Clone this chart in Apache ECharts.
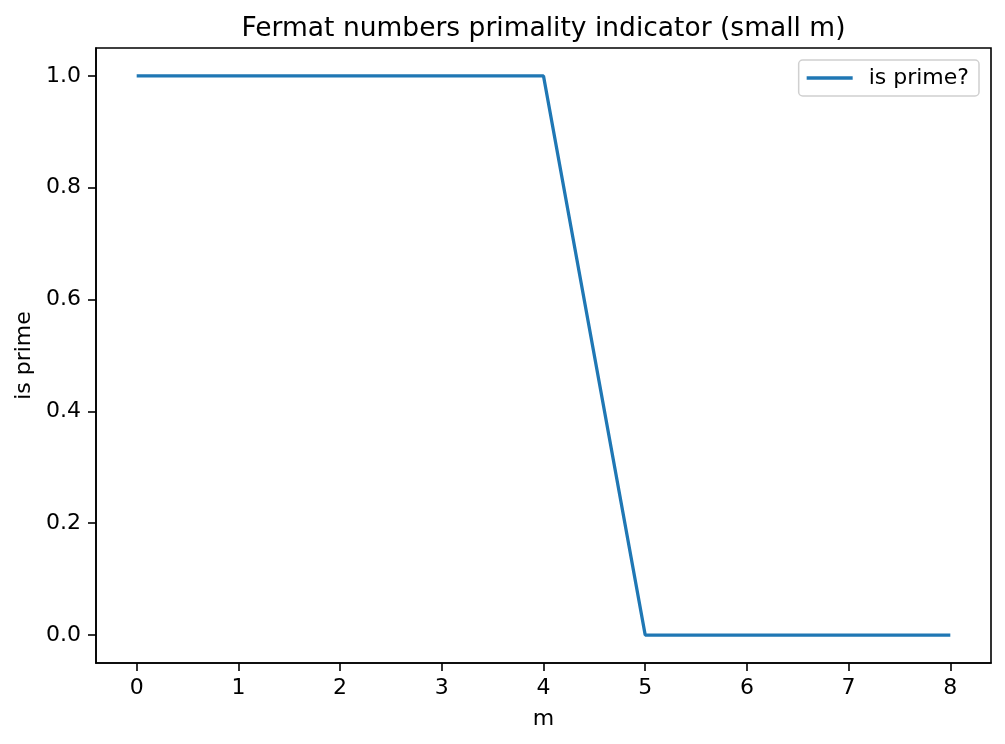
<!DOCTYPE html>
<html>
<head>
<meta charset="utf-8">
<script src="https://cdn.jsdelivr.net/npm/echarts@6/dist/echarts.min.js"></script>
<style>
html,body{margin:0;padding:0;background:#fff;}
#chart{width:1005px;height:744px;}
</style>
</head>
<body>
<div id="chart"></div>
<script>
const mValues = [0, 1, 2, 3, 4, 5, 6, 7, 8];
const isPrime = [1, 1, 1, 1, 1, 0, 0, 0, 0];
const xTicks = [0, 1, 2, 3, 4, 5, 6, 7, 8];
const yTicks = [0, 0.2, 0.4, 0.6, 0.8, 1.0];
const titleText = 'Fermat numbers primality indicator (small m)';
const xLabel = 'm';
const yLabel = 'is prime';
const seriesName = 'is prime?';

const FONT = 'DejaVu Sans';
const chart = echarts.init(document.getElementById('chart'), null, {renderer: 'canvas'});
const axisCommon = {
  axisLine: {show: true, onZero: false, lineStyle: {color: '#000', width: 1.6}},
  axisTick: {show: true, inside: false, length: 8, lineStyle: {color: '#000', width: 1.6}},
  splitLine: {show: false},
  nameLocation: 'middle',
  nameTextStyle: {fontFamily: FONT, fontSize: 22, color: '#000'}
};
chart.setOption({
  animation: false,
  backgroundColor: '#fff',
  title: {
    text: titleText,
    left: 543.5,
    top: 16,
    padding: 0,
    textAlign: 'center',
    textStyle: {fontFamily: FONT, fontSize: 26.5, fontWeight: 'normal', color: '#000'}
  },
  grid: {left: 96, right: 14, top: 48, bottom: 81, show: true, borderColor: '#000', borderWidth: 1.6, backgroundColor: 'transparent'},
  legend: {
    show: true,
    right: 26, top: 60,
    orient: 'vertical',
    backgroundColor: '#fff',
    borderColor: '#d0d0d0',
    borderWidth: 1.5,
    borderRadius: 4,
    padding: [7, 10, 7, 8],
    itemWidth: 46,
    itemHeight: 3.3,
    textStyle: {fontFamily: FONT, fontSize: 22, color: '#000', padding: [0, 0, 0, 11]},
    data: [{name: seriesName, icon: 'rect', itemStyle: {color: '#1f77b4', borderWidth: 0}}]
  },
  xAxis: Object.assign({}, axisCommon, {
    type: 'value',
    min: -0.4, max: 8.4,
    name: xLabel,
    nameGap: 45,
    axisTick: Object.assign({}, axisCommon.axisTick, {customValues: xTicks}),
    axisLabel: {customValues: xTicks, margin: 14, fontFamily: FONT, fontSize: 22, color: '#000', formatter: v => String(v)}
  }),
  yAxis: Object.assign({}, axisCommon, {
    type: 'value',
    min: -0.05, max: 1.05,
    name: yLabel,
    nameGap: 56,
    axisTick: Object.assign({}, axisCommon.axisTick, {customValues: yTicks}),
    axisLabel: {customValues: yTicks, margin: 15, fontFamily: FONT, fontSize: 22, color: '#000', formatter: v => v.toFixed(1)}
  }),
  series: [{
    name: seriesName,
    type: 'line',
    symbol: 'none',
    data: mValues.map((m, i) => [m, isPrime[i]]),
    lineStyle: {color: '#1f77b4', width: 3.3},
    itemStyle: {color: '#1f77b4'}
  }]
});
</script>
</body>
</html>
